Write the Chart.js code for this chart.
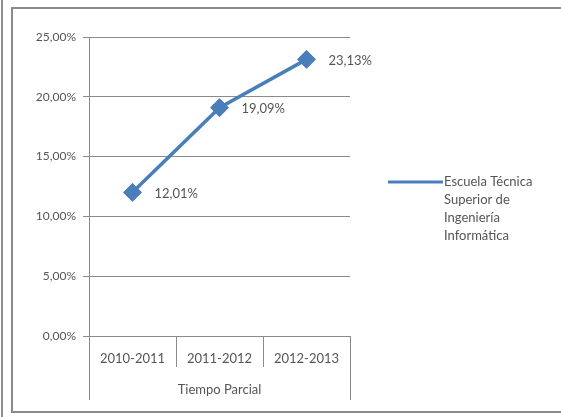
<!DOCTYPE html>
<html>
<head>
<meta charset="utf-8">
<script src="https://cdn.jsdelivr.net/npm/chart.js@4.4.0/dist/chart.umd.min.js"></script>
<style>
  body { margin: 0; background: #fff; }
  #wrap { position: relative; width: 561px; height: 417px; overflow: hidden; }
  #leftLine { position: absolute; left: 1px; top: 0; width: 2px; height: 417px; background: #8f8f8f; }
  #frame { position: absolute; left: 11px; top: 7px; width: 560px; height: 402px;
           border-left: 2px solid #8a8a8a; border-top: 2px solid #8a8a8a; border-bottom: 2px solid #8a8a8a; }
  canvas { position: absolute; left: 0; top: 0; }
</style>
</head>
<body>
<div id="wrap">
  <div id="leftLine"></div>
  <div id="frame"></div>
  <canvas id="chart" width="561" height="417"></canvas>
</div>
<script>
        const categories = ['2010-2011', '2011-2012', '2012-2013'];
        const seriesValues = [12.01, 19.09, 23.13];
        const groupLabel = 'Tiempo Parcial';
        const seriesLabel = ['Escuela Técnica', 'Superior de', 'Ingeniería', 'Informática'];
        const yTicks = [0, 5, 10, 15, 20, 25];

        const textColor = '#555555';
        const lineColor = '#4a7ebb';
        const fontFamily = 'Lato, "Open Sans", sans-serif';

        function pct(v) {
            return v.toFixed(2).replace('.', ',') + '%';
        }

        // labels next to each point, plus the outer divider extensions and the legend
        const extrasPlugin = {
            id: 'extras',
            afterDatasetsDraw(chart) {
                const ctx = chart.ctx;
                const meta = chart.getDatasetMeta(0);
                ctx.save();
                ctx.fillStyle = textColor;
                ctx.font = '13px ' + fontFamily;
                ctx.textAlign = 'left';
                ctx.textBaseline = 'middle';
                meta.data.forEach((pt, i) => {
                    ctx.fillText(pct(seriesValues[i]), pt.x + 22, pt.y + 1);
                });
                ctx.restore();
            },
            afterDraw(chart) {
                const ctx = chart.ctx;
                const area = chart.chartArea;
                const xScale = chart.scales.x;
                ctx.save();
                ctx.strokeStyle = '#8a8a8a';
                ctx.lineWidth = 1;
                [area.left, area.right].forEach(x => {
                    ctx.beginPath();
                    ctx.moveTo(Math.round(x) + 0.5, area.bottom);
                    ctx.lineTo(Math.round(x) + 0.5, xScale.bottom);
                    ctx.stroke();
                });

                // legend
                const lx = area.right + 38;
                const ly = 182;
                ctx.strokeStyle = lineColor;
                ctx.lineWidth = 3;
                ctx.beginPath();
                ctx.moveTo(lx, ly);
                ctx.lineTo(lx + 55, ly);
                ctx.stroke();
                ctx.fillStyle = textColor;
                ctx.font = '13px ' + fontFamily;
                ctx.textAlign = 'left';
                ctx.textBaseline = 'middle';
                seriesLabel.forEach((t, i) => {
                    ctx.fillText(t, lx + 56, ly + i * 18);
                });
                ctx.restore();
            }
        };

        new Chart(document.getElementById('chart'), {
            type: 'line',
            data: {
                labels: categories,
                datasets: [{
                    label: seriesLabel.join(' '),
                    data: seriesValues,
                    borderColor: lineColor,
                    backgroundColor: lineColor,
                    borderWidth: 3.5,
                    pointStyle: 'rectRot',
                    pointRadius: 9,
                    pointHoverRadius: 9,
                    pointBorderWidth: 1,
                    pointBorderColor: lineColor,
                    pointBackgroundColor: lineColor,
                    tension: 0
                }]
            },
            options: {
                responsive: false,
                animation: false,
                devicePixelRatio: 1,
                layout: {
                    padding: { top: 37, left: 12, right: 211, bottom: 17 }
                },
                plugins: {
                    legend: { display: false },
                    tooltip: { enabled: false }
                },
                scales: {
                    x: {
                        offset: true,
                        grid: {
                            offset: true,
                            drawOnChartArea: false,
                            drawTicks: true,
                            tickLength: 31,
                            color: '#8a8a8a'
                        },
                        border: { color: '#8a8a8a' },
                        ticks: {
                            color: textColor,
                            font: { family: fontFamily, size: 13 },
                            padding: -16,
                            maxRotation: 0
                        },
                        title: {
                            display: true,
                            text: groupLabel,
                            color: textColor,
                            font: { family: fontFamily, size: 13 },
                            padding: { top: 0, bottom: 2 }
                        },
                        afterFit(scale) { scale.height = 64; }
                    },
                    y: {
                        min: 0,
                        max: 25,
                        afterBuildTicks(scale) {
                            scale.ticks = yTicks.map(v => ({ value: v }));
                        },
                        grid: {
                            color: '#8a8a8a',
                            tickLength: 6
                        },
                        border: { color: '#8a8a8a' },
                        ticks: {
                            color: textColor,
                            font: { family: fontFamily, size: 12 },
                            padding: 7,
                            callback: v => pct(v)
                        },
                        afterFit(scale) { scale.width = 77; }
                    }
                }
            },
            plugins: [extrasPlugin]
        });
</script>
</body>
</html>
